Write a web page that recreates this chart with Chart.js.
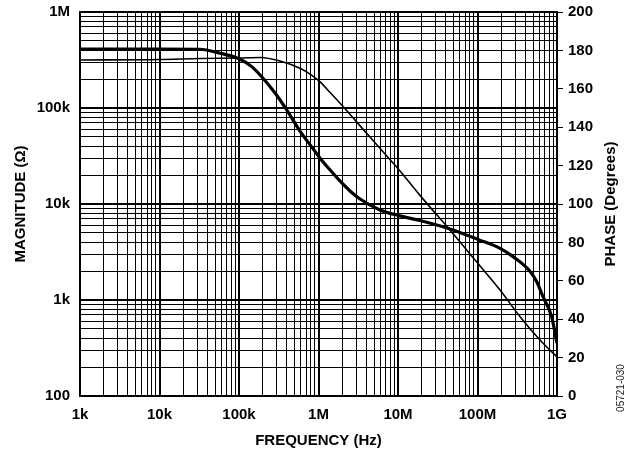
<!DOCTYPE html>
<html lang="en">
<head>
  <meta charset="UTF-8" />
  <title>Magnitude and Phase vs Frequency</title>
  <script src="https://cdn.jsdelivr.net/npm/chart.js@4.4.0/dist/chart.umd.min.js"></script>
  <style>
    html, body { margin: 0; padding: 0; background: #fff; }
    #wrap { width: 639px; height: 452px; }
  </style>
</head>
<body>
  <div id="wrap"><canvas id="bodeChart" width="639" height="452"></canvas></div>

  <script>
    // magnitude, thin line, left axis (ohms)
    const magFreq = [1e3, 1e4, 3.2e4, 1e5, 1.84e5, 3.28e5, 5.85e5, 8e5, 1.04e6, 1.4e6, 2.05e6, 4.03e6,
      7.9e6, 1.06e7, 1.89e7, 4.5e7, 9.77e7, 1.92e8, 3.43e8, 6.11e8, 1e9];
    const magOhms = [316e3, 320e3, 328e3, 332e3, 336e3, 309e3, 259e3, 223e3, 188e3, 145e3, 103e3, 54.5e3,
      29.1e3, 22.1e3, 12.3e3, 5.36e3, 2.49e3, 1.27e3, 670, 383, 255];

    // phase, thick line, right axis (degrees)
    const phaseFreq = [1e3, 1e4, 3.2e4, 5.8e4, 1.03e5, 1.46e5, 2.84e5, 3.98e5, 5.85e5, 8.61e5, 1.04e6, 1.4e6,
      1.86e6, 2.49e6, 3.33e6, 5.94e6, 1.06e7, 1.89e7, 4.5e7, 1.05e8, 1.92e8, 2.8e8, 4.57e8, 5.56e8,
      6.67e8, 8.57e8, 1e9];
    const phaseDeg = [180.7, 180.7, 180.6, 178.5, 175.4, 171.4, 157.8, 149, 138, 128.6, 124, 117.7,
      112, 106.8, 102.6, 96.9, 93.8, 91.4, 87, 81.3, 76.9, 72.6, 65, 59.5,
      51.7, 41.3, 27.5];

    // tick labels (decades only)
    const freqLabels = { 1e3: "1k", 1e4: "10k", 1e5: "100k", 1e6: "1M", 1e7: "10M", 1e8: "100M", 1e9: "1G" };
    const magLabels = { 1e2: "100", 1e3: "1k", 1e4: "10k", 1e5: "100k", 1e6: "1M" };
  </script>

  <script>
    const labelFont = { family: '"Liberation Sans", Arial, sans-serif', size: 15, weight: "bold" };

    // 1,2,...,9 for every decade -> the log paper grid
    function logGrid(fromExp, toExp) {
      const vals = [];
      for (let e = fromExp; e < toExp; e++) {
        for (let m = 1; m < 10; m++) vals.push(m * Math.pow(10, e));
      }
      vals.push(Math.pow(10, toExp));
      return vals;
    }

    function isDecade(v) {
      const l = Math.log10(v);
      return Math.abs(l - Math.round(l)) < 1e-9;
    }

    function gridWidth(ctx) {
      return ctx.tick && isDecade(ctx.tick.value) ? 2 : 1;
    }

    // fixed axis box sizes so the plot frame lands where the original one is
    function fixWidth(w) {
      return (axis) => {
        axis.width = w;
        axis.paddingTop = 0;
        axis.paddingBottom = 0;
      };
    }

    const sideText = {
      id: "sideText",
      afterDraw(chart) {
        const ctx = chart.ctx;
        const area = chart.chartArea;
        ctx.save();
        ctx.fillStyle = "#000";
        ctx.textAlign = "center";
        ctx.textBaseline = "middle";
        ctx.translate(611, (area.top + area.bottom) / 2);
        ctx.rotate(-Math.PI / 2);
        ctx.font = 'bold 15px "Liberation Sans", Arial, sans-serif';
        ctx.fillText("PHASE (Degrees)", 0, 0);
        ctx.restore();

        ctx.save();
        ctx.fillStyle = "#222";
        ctx.textAlign = "center";
        ctx.textBaseline = "middle";
        ctx.translate(621, 388);
        ctx.rotate(-Math.PI / 2);
        ctx.font = '10px "Liberation Sans", Arial, sans-serif';
        ctx.fillText("05721-030", 0, 0);
        ctx.restore();
      },
    };

    const bodeChart = new Chart(document.getElementById("bodeChart").getContext("2d"), {
      type: "line",
      data: {
        datasets: [
          {
            label: "Magnitude",
            data: magFreq.map((f, i) => ({ x: f, y: magOhms[i] })),
            yAxisID: "y",
            borderColor: "#000",
            borderWidth: 1.6,
            pointRadius: 0,
            fill: false,
            cubicInterpolationMode: "monotone",
          },
          {
            label: "Phase",
            data: phaseFreq.map((f, i) => ({ x: f, y: phaseDeg[i] })),
            yAxisID: "y2",
            borderColor: "#000",
            borderWidth: 3.2,
            pointRadius: 0,
            fill: false,
            cubicInterpolationMode: "monotone",
          },
        ],
      },
      options: {
        responsive: false,
        animation: false,
        layout: { padding: { top: 12, left: 0, right: 0, bottom: 0 } },
        plugins: { legend: { display: false }, tooltip: { enabled: false } },
        scales: {
          x: {
            type: "logarithmic",
            position: "bottom",
            min: 1e3,
            max: 1e9,
            afterBuildTicks: (axis) => {
              axis.ticks = logGrid(3, 9).map((v) => ({ value: v }));
            },
            afterFit: (axis) => {
              axis.height = 56;
              axis.paddingLeft = 0;
              axis.paddingRight = 0;
            },
            ticks: {
              autoSkip: false,
              maxRotation: 0,
              minRotation: 0,
              padding: 10,
              color: "#000",
              font: labelFont,
              callback: (v) => freqLabels[v] || "",
            },
            grid: { color: "#000", lineWidth: gridWidth, drawTicks: false },
            border: { color: "#000", width: 2 },
            title: {
              display: true,
              text: "FREQUENCY (Hz)",
              color: "#000",
              font: labelFont,
              padding: { top: 0, bottom: 2 },
            },
          },
          y: {
            type: "logarithmic",
            position: "left",
            min: 1e2,
            max: 1e6,
            afterBuildTicks: (axis) => {
              axis.ticks = logGrid(2, 6).map((v) => ({ value: v }));
            },
            afterFit: fixWidth(80),
            ticks: {
              autoSkip: false,
              padding: 10,
              color: "#000",
              font: labelFont,
              callback: (v) => magLabels[v] || "",
            },
            grid: { color: "#000", lineWidth: gridWidth, drawTicks: false },
            border: { color: "#000", width: 2 },
            title: {
              display: true,
              text: "MAGNITUDE (Ω)",
              color: "#000",
              font: labelFont,
              padding: { top: 12, bottom: 0 },
            },
          },
          y2: {
            type: "linear",
            position: "right",
            min: 0,
            max: 200,
            afterFit: fixWidth(82),
            ticks: {
              stepSize: 20,
              padding: 5,
              color: "#000",
              font: labelFont,
            },
            grid: { drawOnChartArea: false, drawTicks: true, tickLength: 6, color: "#000", lineWidth: 1 },
            border: { color: "#000", width: 2 },
          },
        },
      },
      plugins: [sideText],
    });
  </script>
</body>
</html>
